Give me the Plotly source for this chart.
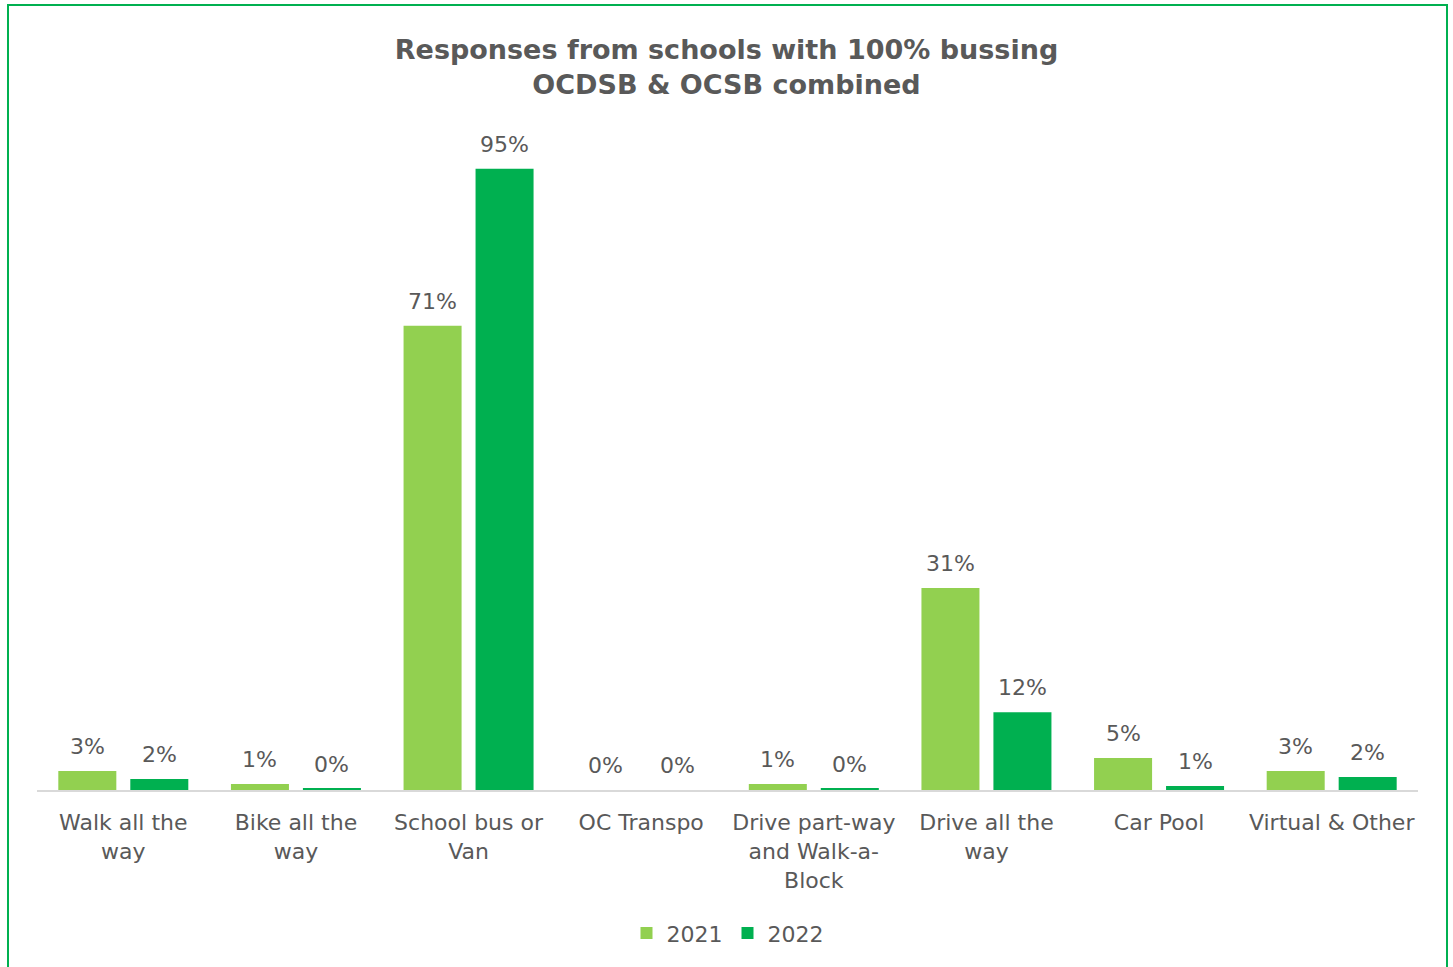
import plotly.graph_objects as go

categories = ["Walk all the<br>way", "Bike all the<br>way", "School bus or<br>Van", "OC Transpo",
              "Drive part-way<br>and Walk-a-<br>Block", "Drive all the<br>way", "Car Pool", "Virtual & Other"]
values_2021 = [2.9, 0.9, 71.0, 0.0, 0.9, 30.9, 4.9, 2.9]
values_2022 = [1.7, 0.2, 95.0, 0.0, 0.2, 11.9, 0.6, 2.0]
series_names = ["2021", "2022"]
colors = ["#92D050", "#00B050"]

FONT = "DejaVu Sans"
TXT = "#595959"

fig = go.Figure()
for name, vals, col in zip(series_names, [values_2021, values_2022], colors):
    fig.add_trace(go.Bar(name=name, x=categories, y=vals, marker_color=col,
                         marker_line_width=0, hoverinfo="x+y"))

# data labels
for shift, vals in zip([-36, 36], [values_2021, values_2022]):
    for c, v in zip(categories, vals):
        fig.add_annotation(x=c, y=v, text=f"{round(v)}%", showarrow=False,
                           xref="x", yref="y", xshift=shift, yshift=10, yanchor="bottom",
                           font=dict(family=FONT, size=22, color=TXT))

# outer green border
fig.add_shape(type="rect", xref="paper", yref="paper",
              x0=(8 - 37) / 1381, x1=(1447 - 37) / 1381,
              y0=(790 - 990) / 654, y1=(790 - 5) / 654,
              line=dict(color="#00B050", width=2), fillcolor="rgba(0,0,0,0)", layer="below")

fig.update_layout(
    width=1453, height=967,
    margin=dict(l=37, r=35, t=136, b=177),
    paper_bgcolor="white", plot_bgcolor="white",
    barmode="group", bargap=0.166, bargroupgap=0.194,
    title=dict(text="<b>Responses from schools with 100% bussing<br>OCDSB & OCSB combined</b>",
               x=0.5, xanchor="center", y=1 - 59 / 967, yanchor="middle", yref="container",
               font=dict(family=FONT, size=27, color=TXT)),
    showlegend=True,
    legend=dict(orientation="h", x=0.5, xanchor="center", y=-0.219, yanchor="middle",
                font=dict(family=FONT, size=22, color=TXT), itemsizing="constant",
                itemwidth=30, tracegroupgap=0),
    xaxis=dict(showline=True, linecolor="#D9D9D9", linewidth=2, ticks="",
               ticklabelstandoff=12,
               tickfont=dict(family=FONT, size=22, color=TXT), showgrid=False),
    yaxis=dict(range=[0, 100], visible=False, showgrid=False, zeroline=False),
)

fig.write_html("out.html", config={"displayModeBar": False},
               post_script="document.body.style.margin='0';")
